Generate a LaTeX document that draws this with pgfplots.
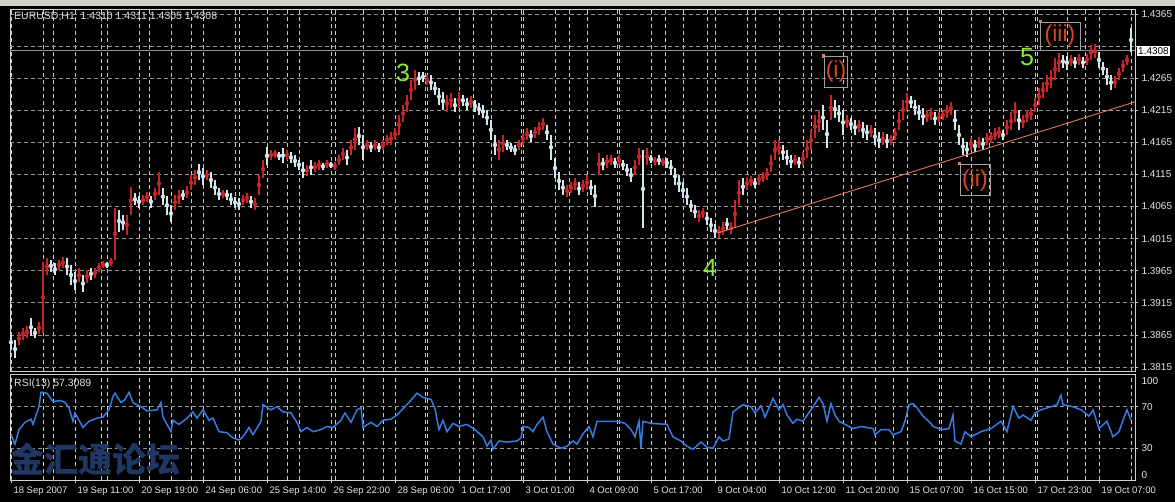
\documentclass[border=0pt]{standalone}
\usepackage{pgfplots}
\pgfplotsset{compat=1.18}
\usepackage{pgfplotstable}
\usepackage{fontspec}
\setmainfont{Liberation Sans}
\newfontfamily\cjk{Noto Sans CJK SC}
\definecolor{upbar}{RGB}{200,38,38}
\definecolor{dnbar}{RGB}{210,230,236}
\definecolor{rsiblue}{RGB}{55,125,225}
\definecolor{gridv}{RGB}{200,200,200}
\definecolor{gridh}{RGB}{150,150,150}
\definecolor{wavegreen}{RGB}{140,230,50}
\definecolor{waveorange}{RGB}{215,70,30}
\definecolor{trend}{RGB}{225,120,90}
\definecolor{lblc}{RGB}{228,228,228}
\definecolor{winbg}{RGB}{212,208,200}
\definecolor{wmdark}{RGB}{32,55,100}

\pgfplotstableread{
i lo hi
4 1.3849 1.3870
6 1.3857 1.3876
8 1.3860 1.3879
14 1.3867 1.3885
16 1.3868 1.3979
18 1.3958 1.3985
24 1.3966 1.3982
26 1.3969 1.3986
34 1.3947 1.3969
38 1.3946 1.3966
42 1.3954 1.3969
44 1.3963 1.3977
46 1.3969 1.3980
50 1.3972 1.3985
52 1.3982 1.4063
58 1.4021 1.4052
60 1.4052 1.4096
66 1.4067 1.4083
68 1.4072 1.4088
72 1.4075 1.4094
74 1.4083 1.4119
82 1.4060 1.4083
84 1.4069 1.4091
88 1.4078 1.4097
90 1.4091 1.4114
92 1.4099 1.4122
98 1.4106 1.4122
106 1.4078 1.4091
116 1.4067 1.4083
118 1.4071 1.4086
122 1.4060 1.4078
124 1.4083 1.4114
126 1.4109 1.4138
130 1.4138 1.4153
132 1.4141 1.4153
138 1.4138 1.4153
148 1.4113 1.4130
152 1.4119 1.4134
154 1.4122 1.4138
158 1.4125 1.4138
162 1.4122 1.4134
164 1.4130 1.4145
166 1.4138 1.4156
170 1.4145 1.4169
172 1.4153 1.4187
178 1.4153 1.4169
182 1.4153 1.4169
186 1.4153 1.4169
188 1.4161 1.4177
190 1.4161 1.4181
192 1.4169 1.4187
194 1.4177 1.4208
196 1.4197 1.4223
198 1.4212 1.4239
200 1.4231 1.4262
202 1.4247 1.4278
208 1.4254 1.4270
218 1.4212 1.4239
220 1.4219 1.4242
224 1.4219 1.4244
230 1.4219 1.4237
244 1.4138 1.4169
246 1.4150 1.4177
254 1.4153 1.4169
256 1.4161 1.4180
258 1.4169 1.4187
262 1.4172 1.4189
264 1.4177 1.4197
266 1.4184 1.4203
278 1.4080 1.4099
280 1.4086 1.4103
282 1.4091 1.4109
286 1.4088 1.4106
288 1.4091 1.4114
294 1.4114 1.4148
298 1.4125 1.4145
300 1.4130 1.4145
304 1.4130 1.4145
312 1.4114 1.4138
314 1.4130 1.4156
318 1.4130 1.4156
322 1.4130 1.4142
326 1.4128 1.4141
344 1.4041 1.4060
346 1.4047 1.4063
354 1.4016 1.4035
356 1.4021 1.4041
360 1.4022 1.4041
362 1.4032 1.4075
364 1.4067 1.4106
368 1.4091 1.4111
370 1.4097 1.4113
374 1.4099 1.4116
376 1.4103 1.4119
378 1.4106 1.4125
380 1.4119 1.4145
382 1.4138 1.4169
384 1.4145 1.4169
392 1.4130 1.4145
396 1.4130 1.4150
398 1.4141 1.4169
400 1.4153 1.4184
402 1.4172 1.4208
404 1.4181 1.4215
410 1.4200 1.4239
418 1.4187 1.4208
424 1.4181 1.4200
430 1.4173 1.4192
436 1.4161 1.4181
440 1.4161 1.4177
442 1.4169 1.4187
444 1.4184 1.4212
446 1.4200 1.4231
448 1.4215 1.4242
458 1.4197 1.4215
460 1.4200 1.4219
464 1.4197 1.4212
466 1.4200 1.4215
468 1.4203 1.4223
470 1.4208 1.4228
480 1.4153 1.4172
484 1.4156 1.4173
488 1.4161 1.4180
490 1.4164 1.4181
492 1.4169 1.4187
494 1.4172 1.4189
498 1.4177 1.4200
500 1.4184 1.4212
502 1.4197 1.4228
506 1.4187 1.4208
508 1.4197 1.4215
510 1.4200 1.4219
512 1.4212 1.4234
514 1.4223 1.4250
516 1.4234 1.4259
518 1.4244 1.4270
520 1.4250 1.4278
522 1.4262 1.4296
524 1.4275 1.4304
530 1.4284 1.4301
534 1.4286 1.4303
538 1.4286 1.4303
540 1.4293 1.4317
542 1.4296 1.4318
552 1.4250 1.4268
554 1.4262 1.4281
556 1.4275 1.4293
558 1.4286 1.4301
}\upbars

\pgfplotstableread{
i lo hi
0 1.3842 1.3865
2 1.3829 1.3857
10 1.3863 1.3891
12 1.3860 1.3876
20 1.3963 1.3982
22 1.3958 1.3977
28 1.3958 1.3985
30 1.3943 1.3974
32 1.3935 1.3963
36 1.3932 1.3958
40 1.3951 1.3969
48 1.3969 1.3979
54 1.4025 1.4060
56 1.4028 1.4052
62 1.4067 1.4086
64 1.4063 1.4082
70 1.4063 1.4082
76 1.4067 1.4094
78 1.4052 1.4082
80 1.4041 1.4067
86 1.4075 1.4091
94 1.4106 1.4131
96 1.4099 1.4125
100 1.4094 1.4119
102 1.4083 1.4106
104 1.4075 1.4094
108 1.4075 1.4091
110 1.4067 1.4086
112 1.4063 1.4080
114 1.4060 1.4078
120 1.4063 1.4082
128 1.4130 1.4158
134 1.4138 1.4150
136 1.4133 1.4156
140 1.4133 1.4150
142 1.4127 1.4145
144 1.4122 1.4138
146 1.4109 1.4134
150 1.4114 1.4138
156 1.4122 1.4133
160 1.4125 1.4134
168 1.4130 1.4153
174 1.4161 1.4189
176 1.4138 1.4177
180 1.4150 1.4166
184 1.4150 1.4164
204 1.4254 1.4275
206 1.4259 1.4275
210 1.4247 1.4270
212 1.4239 1.4259
214 1.4223 1.4250
216 1.4215 1.4244
222 1.4212 1.4234
226 1.4222 1.4239
228 1.4215 1.4234
232 1.4212 1.4231
234 1.4208 1.4226
236 1.4203 1.4223
238 1.4192 1.4215
240 1.4169 1.4200
242 1.4145 1.4177
248 1.4153 1.4169
250 1.4150 1.4164
252 1.4145 1.4161
260 1.4166 1.4184
268 1.4169 1.4192
270 1.4138 1.4177
272 1.4109 1.4141
274 1.4091 1.4119
276 1.4083 1.4106
284 1.4083 1.4103
290 1.4083 1.4106
292 1.4064 1.4099
296 1.4122 1.4141
302 1.4125 1.4141
306 1.4122 1.4138
308 1.4113 1.4131
310 1.4103 1.4125
316 1.4032 1.4153
320 1.4133 1.4145
324 1.4130 1.4145
328 1.4125 1.4141
330 1.4114 1.4138
332 1.4099 1.4125
334 1.4088 1.4114
336 1.4078 1.4103
338 1.4067 1.4094
340 1.4057 1.4075
342 1.4047 1.4067
348 1.4036 1.4057
350 1.4025 1.4047
352 1.4016 1.4038
358 1.4028 1.4047
366 1.4083 1.4109
372 1.4094 1.4109
386 1.4138 1.4161
388 1.4130 1.4153
390 1.4125 1.4145
394 1.4125 1.4142
406 1.4184 1.4223
408 1.4156 1.4200
412 1.4203 1.4231
414 1.4197 1.4223
416 1.4177 1.4215
420 1.4184 1.4203
422 1.4177 1.4200
426 1.4172 1.4197
428 1.4169 1.4192
432 1.4161 1.4187
434 1.4156 1.4181
438 1.4156 1.4178
450 1.4219 1.4237
452 1.4208 1.4231
454 1.4200 1.4223
456 1.4192 1.4219
462 1.4192 1.4212
472 1.4184 1.4215
474 1.4161 1.4192
476 1.4145 1.4172
478 1.4142 1.4166
482 1.4150 1.4169
486 1.4153 1.4172
496 1.4169 1.4184
504 1.4184 1.4215
526 1.4281 1.4301
528 1.4278 1.4300
532 1.4281 1.4298
536 1.4281 1.4298
544 1.4281 1.4306
546 1.4270 1.4290
548 1.4254 1.4281
550 1.4247 1.4270
560 1.4306 1.4343
}\dnbars

\pgfplotstableread{
i rsi
0 43
2 34
4 48
7 55
10 58
11 53
14 70
15 84
18 83
21 75
25 76
27 74
29 69
31 56
32 64
36 50
39 56
43 59
46 60
49 67
51 80
52 83
55 74
57 77
59 84
61 74
65 70
68 66
73 67
75 74
76 60
80 46
81 57
84 53
88 59
91 65
93 59
96 67
99 57
101 59
104 46
108 45
111 40
114 38
116 41
119 50
121 43
125 56
126 72
130 67
133 70
136 65
140 64
143 55
145 46
148 50
151 46
155 48
158 51
161 50
165 57
167 64
170 55
173 67
175 69
176 50
180 55
183 51
186 57
190 58
193 62
198 72
203 83
206 79
210 77
212 68
214 48
216 57
218 46
221 54
224 51
228 53
232 48
236 41
238 32
240 38
241 29
244 37
248 36
253 37
255 40
256 51
259 50
261 46
263 53
266 60
268 46
271 34
275 30
278 32
281 37
283 34
286 44
289 51
291 41
293 56
298 56
303 56
307 54
310 48
312 41
314 56
315 30
316 56
320 54
328 53
331 41
335 37
338 32
341 29
345 36
348 31
351 30
354 41
356 37
359 39
361 65
366 72
370 70
372 64
375 71
377 60
381 78
384 67
386 72
388 62
391 54
393 58
396 56
400 67
404 79
406 73
408 56
410 73
412 62
414 56
416 54
421 49
425 51
431 49
432 43
435 48
439 48
441 43
445 46
447 56
449 72
451 73
453 69
456 61
460 54
461 51
464 49
466 48
469 49
471 62
472 37
475 34
477 46
480 41
485 46
490 49
495 56
498 46
501 70
504 59
506 62
510 57
512 64
515 67
520 70
523 72
525 81
526 72
531 70
535 67
539 61
541 67
544 49
548 56
551 41
554 46
556 57
558 67
560 57
}\rsidata

\pgfplotsset{
  mt/.style={
    scale only axis, width=1125pt,
    xmin=-0.5, xmax=562,
    axis background/.style={fill=black},
    axis line style={draw=white!82!black, line width=0.8pt},
    xtick={0,32,...,544},
    minor xtick={16,48,80,112,144,176,208,240,272,304,336,368,400,432,464,496,528,560,21,45,69,90,114,138,162,186,207,231,255,279,303,327,348,372,396,420,441,465,489,513,537},
    xmajorgrids, xminorgrids, ymajorgrids,
    grid style={dash pattern=on 4pt off 3pt, line width=0.7pt},
    major grid style={dash pattern=on 4pt off 3pt, line width=0.7pt},
    minor grid style={dash pattern=on 4pt off 3pt, line width=0.7pt},
    x grid style={draw=gridv},
    y grid style={draw=gridh},
    minor tick length=0pt, major tick length=3pt,
    tick align=outside,
    xtick pos=left, ytick pos=right, yticklabel pos=right,
    tick style={draw=white!82!black, line width=0.7pt},
    ticklabel style={font=\fontsize{10}{12}\selectfont, text=lblc},
    /pgf/number format/assume math mode=true,
    clip mode=individual,
  }
}

\begin{document}
\begin{tikzpicture}[x=1pt,y=1pt]
\path[use as bounding box, fill=black] (0,0) rectangle (1175,502);
\fill[winbg] (0,496) rectangle (1175,502);

% ---------------- price panel ----------------
\begin{axis}[mt, at={(10pt,131pt)}, anchor=south west, height=362pt,
  ymin=1.38087, ymax=1.43728,
  ytick={1.3815,1.3865,1.3915,1.3965,1.4015,1.4065,1.4115,1.4165,1.4215,1.4265,1.4365},
  extra y ticks={1.4315}, extra y tick labels={},
  scaled y ticks=false,
  yticklabel style={/pgf/number format/.cd, fixed, fixed zerofill, precision=4},
  xticklabels={}, xtick style={draw=none}]
\addplot[gray!85!white, line width=0.8pt] coordinates {(-0.5,1.4308) (562,1.4308)};
\addplot[upbar, only marks, mark=none,
  error bars/.cd, y dir=both, y explicit, error mark=none,
  error bar style={draw=upbar, line width=1.6pt}]
  table[x=i, y expr={(\thisrow{lo}+\thisrow{hi})/2}, y error expr={(\thisrow{hi}-\thisrow{lo})/2}] {\upbars};
\addplot[dnbar, only marks, mark=none,
  error bars/.cd, y dir=both, y explicit, error mark=none,
  error bar style={draw=dnbar, line width=1.3pt}]
  table[x=i, y expr={(\thisrow{lo}+\thisrow{hi})/2}, y error expr={(\thisrow{hi}-\thisrow{lo})/2}] {\dnbars};
\addplot[trend, line width=0.9pt] coordinates {(353.5,1.4024) (562,1.4228)};
\addplot[only marks, mark=square*, mark size=1.1pt, color=waveorange!70!white] coordinates {(406,1.4300) (474,1.4133) (514.5,1.4354)};
% wave labels
\node[text=wavegreen, font=\fontsize{25}{25}\selectfont, inner sep=0pt] at (axis cs:196,1.4273) {3};
\node[text=wavegreen, font=\fontsize{25}{25}\selectfont, inner sep=0pt] at (axis cs:349.5,1.3969) {4};
\node[text=wavegreen, font=\fontsize{25}{25}\selectfont, inner sep=0pt] at (axis cs:508,1.4298) {5};
\node[draw=gray!75!white, line width=0.6pt, text=waveorange, font=\fontsize{23}{23}\selectfont, inner sep=0pt, minimum width=23pt, minimum height=31pt] at (axis cs:412.5,1.4275) {(i)};
\node[draw=gray!75!white, line width=0.6pt, text=waveorange, font=\fontsize{23}{23}\selectfont, inner sep=0pt, minimum width=30pt, minimum height=31pt] at (axis cs:482,1.4106) {(ii)};
\node[draw=gray!75!white, line width=0.6pt, text=waveorange, font=\fontsize{23}{23}\selectfont, inner sep=0pt, minimum width=40pt, minimum height=28pt] at (axis cs:524.5,1.4331) {(iii)};
% current price box
\node[anchor=west, fill=white, text=black, font=\fontsize{10}{12}\selectfont, inner sep=1.5pt, xshift=1.5pt] at (axis cs:562,1.4308) {1.4308};
\end{axis}

% ---------------- RSI panel ----------------
\begin{axis}[mt, at={(10pt,22pt)}, anchor=south west, height=106pt,
  ymin=-0.5, ymax=101.5, ytick={30,70},
  xticklabels={18 Sep 2007, 19 Sep 11:00, 20 Sep 19:00, 24 Sep 06:00, 25 Sep 14:00, 26 Sep 22:00, 28 Sep 06:00, 1 Oct 17:00, 3 Oct 01:00, 4 Oct 09:00, 5 Oct 17:00, 9 Oct 04:00, 10 Oct 12:00, 11 Oct 20:00, 15 Oct 07:00, 16 Oct 15:00, 17 Oct 23:00, 19 Oct 07:00},
  xticklabel style={anchor=north west, xshift=-1pt, font=\fontsize{9.5}{11}\selectfont}]
\addplot[rsiblue, line width=1.5pt] table[x=i, y=rsi] {\rsidata};
\node[anchor=west, text=lblc, font=\fontsize{10}{12}\selectfont, xshift=3pt, yshift=-5.5pt] at (axis cs:562,100) {100};
\node[anchor=west, text=lblc, font=\fontsize{10}{12}\selectfont, xshift=3pt, yshift=4.5pt] at (axis cs:562,0) {0};
\end{axis}

% titles
\node[anchor=west, text=lblc, font=\fontsize{10.5}{12}\selectfont, inner sep=0pt] at (14,485) {EURUSD,H1\ \ 1.4310 1.4311 1.4305 1.4308};
\node[anchor=west, text=lblc, font=\fontsize{10.5}{12}\selectfont, inner sep=0pt] at (14,118) {RSI(13) 57.3089};

% watermark
\node[text=wmdark, font=\cjk\bfseries\fontsize{34}{34}\selectfont, inner sep=0pt] at (95,43) {金汇通论坛};
\end{tikzpicture}
\end{document}
